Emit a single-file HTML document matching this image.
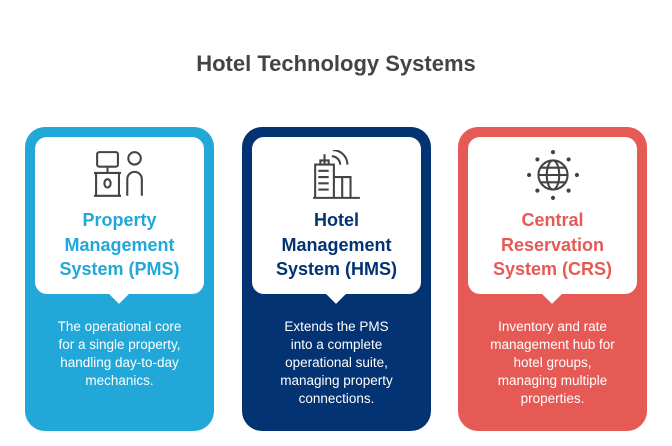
<html><head><style>
body{margin:0;width:672px;height:446px;background:#fff;font-family:"Liberation Sans",sans-serif;position:relative;overflow:hidden}
.t{position:absolute;top:51px;left:0;width:672px;text-align:center;font-size:22px;font-weight:bold;color:#444}
.c{position:absolute;top:127px;width:189px;height:304px;border-radius:20px}
.w{position:absolute;left:10px;top:10px;width:169px;height:157px;background:#fff;border-radius:12px}
.w:after{content:"";position:absolute;left:77px;bottom:-7px;width:14px;height:14px;background:#fff;transform:rotate(45deg)}
.h{position:absolute;top:71px;left:0;width:169px;text-align:center;font-size:18px;font-weight:bold;line-height:24.5px}
.d{position:absolute;top:191px;left:10px;width:169px;text-align:center;color:#fff;font-size:13.5px;line-height:18px}
svg{position:absolute;left:59px;top:13px}
</style></head><body>
<div class="t">Hotel Technology Systems</div>
<div class="c" style="left:25px;background:#22a8d8">
<div class="w"><svg width="52" height="50" viewBox="0 0 50 48" fill="none" stroke="#444" stroke-width="2"><rect x="3" y="2" width="20" height="14" rx="2"/><path d="M13 16v6M0 22h26M2 22v22M24 22v22M0 44h26"/><ellipse cx="13" cy="32" rx="3" ry="4"/><circle cx="39" cy="8" r="6"/><path d="M32 44V28a7 7 0 0114 0v16"/></svg>
<div class="h" style="color:#22a8d8">Property<br>Management<br>System (PMS)</div></div>
<div class="d">The operational core<br>for a single property,<br>handling day-to-day<br>mechanics.</div></div>
<div class="c" style="left:242px;background:#033372">
<div class="w"><svg width="52" height="50" viewBox="0 0 50 48" fill="none" stroke="#444" stroke-width="2"><path d="M4 46V14h18v32M13 14V4M9 14v-4h8v4M7 20h10M7 26h10M7 32h10M7 38h10M22 46V26h8v20M30 46V26h8v20M2 46h45"/><path d="M20 6a8 8 0 018 8M21 0a14 14 0 0114 14"/></svg>
<div class="h" style="color:#033372">Hotel<br>Management<br>System (HMS)</div></div>
<div class="d">Extends the PMS<br>into a complete<br>operational suite,<br>managing property<br>connections.</div></div>
<div class="c" style="left:458px;background:#e55a55">
<div class="w"><svg width="52" height="50" viewBox="0 0 50 48" fill="none" stroke="#444" stroke-width="2"><circle cx="25" cy="24" r="14"/><ellipse cx="25" cy="24" rx="6" ry="14"/><path d="M11 24h28M13 17h24M13 31h24"/><g fill="#444" stroke="none"><circle cx="25" cy="2" r="2"/><circle cx="25" cy="46" r="2"/><circle cx="2" cy="24" r="2"/><circle cx="48" cy="24" r="2"/><circle cx="10" cy="9" r="2"/><circle cx="40" cy="9" r="2"/><circle cx="10" cy="39" r="2"/><circle cx="40" cy="39" r="2"/></g></svg>
<div class="h" style="color:#e55a55">Central<br>Reservation<br>System (CRS)</div></div>
<div class="d">Inventory and rate<br>management hub for<br>hotel groups,<br>managing multiple<br>properties.</div></div>
</body></html>
